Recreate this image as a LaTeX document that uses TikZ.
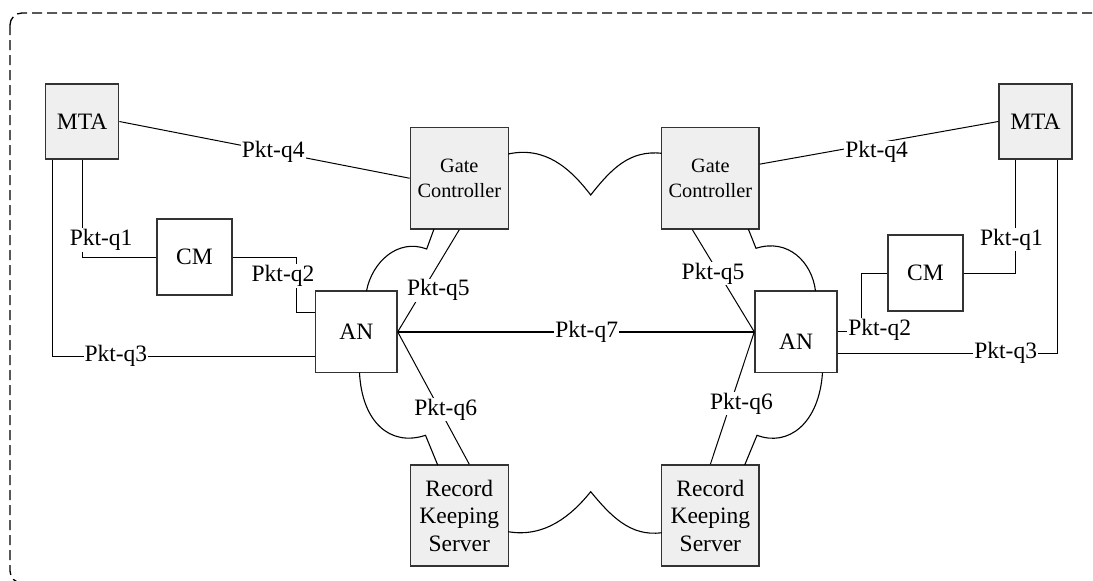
\documentclass[tikz,border=0pt]{standalone}
\usepackage{fontspec}
\setmainfont{Liberation Serif}
\usetikzlibrary{calc}
\newcommand\mainfs{\fontsize{23.5}{27.5}\selectfont}
\newcommand\gcfs{\fontsize{20.3}{25}\selectfont}
\definecolor{boxfill}{HTML}{EFEFEF}
\definecolor{boxline}{HTML}{333333}
\tikzset{
  box/.style={draw=boxline, line width=1.4pt, inner sep=0pt, align=center, font=\mainfs},
  gbox/.style={box, fill=boxfill},
  wbox/.style={box, fill=white},
  conn/.style={draw=black, line width=1pt},
  lbl/.style={fill=white, inner sep=1pt, font=\mainfs},
  cloudline/.style={draw=black, line width=1.1pt},
  framebox/.style={draw=black, dash pattern=on 10pt off 5pt, line width=1.3pt, rounded corners=12pt}
}
\begin{document}
\begin{tikzpicture}[x=1pt, y=-1pt]
\useasboundingbox (0,0) rectangle (1093,581);
\clip (0,0) rectangle (1093,581);
% frame
\draw[framebox] (10,13) rectangle (1120,583);

% boxes left
\node[gbox, minimum width=73pt, minimum height=75pt] (mtaL) at (82.15,121.5) {MTA};
\node[gbox, minimum width=97.8pt, minimum height=101.5pt, font=\gcfs] (gcL) at (459.3,178.25) {Gate\\Controller};
\node[wbox, minimum width=75pt, minimum height=76pt] (cmL) at (194.5,257) {CM};
\node[wbox, minimum width=81.3pt, minimum height=81.7pt] (anL) at (356.35,331.85) {AN};
\node[gbox, minimum width=97.8pt, minimum height=101pt] (rksL) at (459.3,515.5) {Record\\Keeping\\Server};
% boxes right
\node[gbox, minimum width=73pt, minimum height=75pt] (mtaR) at (1035.5,121.5) {MTA};
\node[gbox, minimum width=97.3pt, minimum height=101.7pt, font=\gcfs] (gcR) at (710.35,178.15) {Gate\\Controller};
\node[wbox, minimum width=75pt, minimum height=76pt] (cmR) at (925.5,273) {CM};
\node[wbox, minimum width=82pt, minimum height=81.7pt, label={[font=\mainfs, yshift=-10pt]center:AN}] (anR) at (796,331.85) {};
\node[gbox, minimum width=97.3pt, minimum height=101pt] (rksR) at (710.35,515.5) {Record\\Keeping\\Server};

% cloud outline pieces
\draw[cloudline] (508.2,154) .. controls (545,146) and (570,168) .. (590.7,195)
                 .. controls (612,168) and (630,150) .. (661.7,153.3);
\draw[cloudline] (508.2,531.7) .. controls (545,538) and (572,515) .. (590.7,491.7)
                 .. controls (610,515) and (630,537) .. (661.7,532.7);
\draw[cloudline] (434,229) -- (426.7,249) .. controls (398,238) and (372,262) .. (366.5,291);
\draw[cloudline] (359.5,372.7) .. controls (362,422) and (390,447) .. (425.5,435.3) -- (437.7,465);
\draw[cloudline] (748.3,229) -- (756,248.3) .. controls (788,238) and (812,262) .. (815.5,291);
\draw[cloudline] (822.5,372.7) .. controls (819,424) and (788,447) .. (757,435.3) -- (744.7,465);

% connectors left
\draw[conn] (mtaL.east) -- node[lbl, pos=0.53] (lq4L) {Pkt-q4} (gcL.west);
\draw[conn] (mtaL.south) |- node[lbl, pos=0.413, xshift=19pt] (lq1L) {Pkt-q1} (cmL.west);
\coordinate (q2L) at (296.4,312.3);
\draw[conn] (cmL.east) -| (q2L) -- (q2L -| anL.west);
\node[lbl] (lq2L) at (283,276) {Pkt-q2};
\coordinate (q3L) at (52.6,356);
\draw[conn] (q3L |- mtaL.south) -- (q3L) -- node[lbl, pos=0.241] (lq3L) {Pkt-q3} (q3L -| anL.west);
\draw[conn] (gcL.south) -- node[lbl, pos=0.593, xshift=15.6pt] (lq5L) {Pkt-q5} (anL.east);
\draw[conn] (anL.east) -- node[lbl, pos=0.587, xshift=6pt] (lq6L) {Pkt-q6} ($(rksL.north)+(10,0)$);

% middle
\draw[conn, line width=2pt] (anL.east) -- node[lbl, pos=0.53] (lq7) {Pkt-q7} (anR.west);

% connectors right
\draw[conn] ($(gcR.east)+(0,-14)$) -- node[lbl, pos=0.49, yshift=-9pt] (lq4R) {Pkt-q4} (mtaR.west);
\draw[conn] ($(mtaR.south)+(-20,0)$) |- node[lbl, pos=0.352, xshift=-4pt] (lq1R) {Pkt-q1} (cmR.east);
\coordinate (q2R) at (861.5,331.85);
\draw[conn] (cmR.west) -| (q2R) -- (anR.east);
\node[lbl] (lq2R) at (879.7,330) {Pkt-q2};
\coordinate (q3R) at (1057.6,353);
\draw[conn] (q3R |- mtaR.south) -- (q3R) -- node[lbl, pos=0.236] (lq3R) {Pkt-q3} (q3R -| anR.east);
\draw[conn] ($(gcR.south)+(-18,0)$) -- node[lbl, pos=0.431, xshift=-6pt] (lq5R) {Pkt-q5} (anR.west);
\draw[conn] (anR.west) -- node[lbl, pos=0.542, xshift=11pt] (lq6R) {Pkt-q6} (rksR.north);
\end{tikzpicture}
\end{document}
